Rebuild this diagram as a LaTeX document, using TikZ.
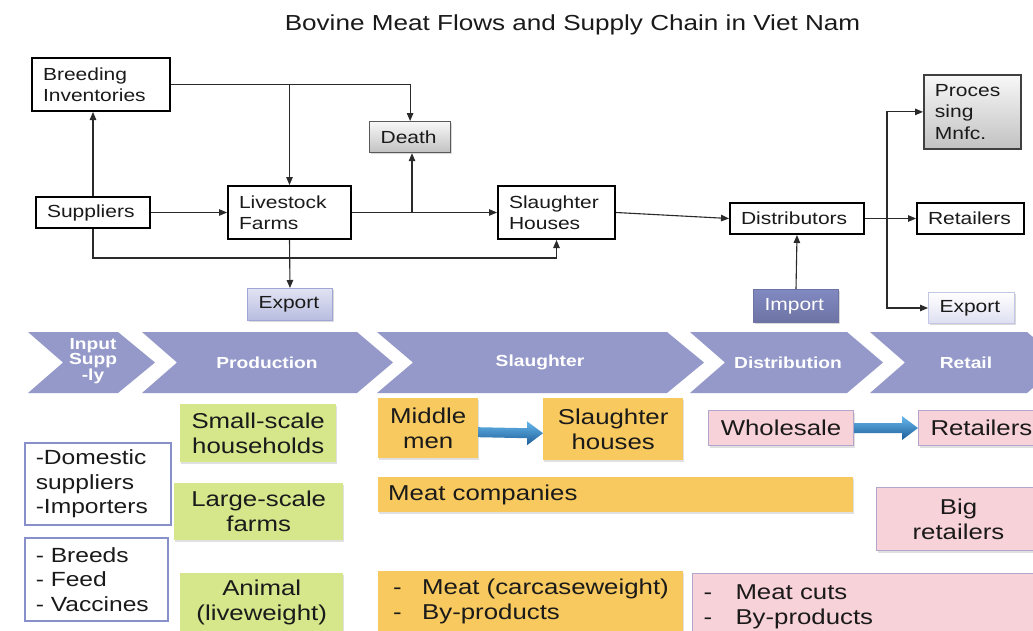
\documentclass[tikz,border=0pt]{standalone}
\usepackage{fontspec}
\setmainfont{Liberation Sans}[FakeStretch=1.2]
\usetikzlibrary{arrows.meta,calc,shadows}
\hyphenpenalty=10000
\exhyphenpenalty=10000
\definecolor{txt}{HTML}{1A1A1A}
\definecolor{lc}{HTML}{2A2A2A}
\definecolor{chev}{HTML}{9499C9}
\definecolor{grn}{HTML}{D5E68B}
\definecolor{org}{HTML}{F7C95E}
\definecolor{pnk}{HTML}{F8D2D9}
\definecolor{pbd}{HTML}{B3A6CC}
\definecolor{wbd}{HTML}{8890CC}
\definecolor{blT}{HTML}{66B8EC}
\definecolor{blM}{HTML}{2E88CF}
\definecolor{blB}{HTML}{1D5C98}
\newcommand\blarrow[3]{%
  \shade[top color=blT, middle color=blM, bottom color=blB]
  ($(#1)+(0,#3-5)$) -- ($(#2)+(-16,#3-5)$) -- ($(#2)+(-16,#3-12)$) --
  ($(#2)+(0,#3)$) -- ($(#2)+(-16,#3+12)$) -- ($(#2)+(-16,#3+5)$) --
  ($(#1)+(0,#3+5)$) -- cycle;}
\begin{document}
\begin{tikzpicture}[x=1pt,y=-1pt,
  bxsz/.style n args={3}{minimum width=#1, minimum height=#2, text width=#3},
  fb/.style={draw=black, line width=2pt, fill=white, inner xsep=11pt, inner ysep=0pt,
    align=left, anchor=north west, text=txt, font=\fontsize{17.5}{21.5}\selectfont},
  gb/.style={fb, line width=1.2pt, draw=black!65, top color=black!3, bottom color=black!24,
    drop shadow={shadow xshift=1pt,shadow yshift=-1.5pt,fill=black,opacity=0.15}},
  eb/.style={fb, line width=1pt, draw=wbd!80, top color=wbd!25, bottom color=wbd!60,
    drop shadow={shadow xshift=1pt,shadow yshift=-1.5pt,fill=black,opacity=0.15}},
  eb2/.style={fb, line width=1pt, draw=wbd!50, top color=white, bottom color=wbd!28,
    drop shadow={shadow xshift=1pt,shadow yshift=-1.5pt,fill=black,opacity=0.15}},
  ib/.style={fb, line width=1pt, draw=wbd!80!black, top color=wbd!95!black, bottom color=wbd!80!black,
    text=white, drop shadow={shadow xshift=1pt,shadow yshift=-1.5pt,fill=black,opacity=0.15}},
  bb/.style={inner xsep=8pt, inner ysep=0pt, anchor=north west, align=center, text=txt,
    font=\fontsize{21.5}{25}\selectfont,
    drop shadow={shadow xshift=1pt,shadow yshift=-2pt,fill=black,opacity=0.12}},
  wb/.style={inner xsep=11pt, inner ysep=0pt, anchor=north west, align=left, text=txt,
    fill=white, draw=wbd, line width=1.5pt, font=\fontsize{20.5}{24.5}\selectfont},
  pb/.style={bb, fill=pnk, draw=pbd, line width=1pt},
  chevt/.style={text=white, inner sep=0pt, align=center, font=\bfseries\fontsize{16}{16}\selectfont},
  conn/.style={draw=lc, line width=1.1pt},
  arr/.style={conn, -{Triangle[length=8pt,width=6.5pt]}}
]
\useasboundingbox (0,0) rectangle (1033,630);
\clip (0,0) rectangle (1033,630);
\fill[white] (0,0) rectangle (1033,630);

% title
\node[font=\fontsize{21.75}{25}\selectfont, anchor=base, text=txt, inner sep=0pt] (title) at (572.5,30)
  {Bovine Meat Flows and Supply Chain in Viet Nam};

% top flow boxes
\node[fb, bxsz={138}{53}{116}] (breed) at (31,57) {Breeding\\Inventories};
\node[gb, bxsz={81}{31}{59}] (death) at (369,121) {Death};
\node[fb, bxsz={114}{31}{92}] (supp) at (35,196) {Suppliers};
\node[fb, bxsz={123}{53}{101}] (farm) at (227,185) {Livestock\\Farms};
\node[eb, bxsz={85}{32}{63}] (exp1) at (247,288) {Export};
\node[fb, bxsz={117}{53}{95}] (slh) at (497,185) {Slaughter\\Houses};
\node[fb, bxsz={134}{31}{112}] (dist) at (729,202) {Distributors};
\node[gb, draw=black!75, line width=1.8pt, bxsz={97}{74}{75}] (proc) at (923,74) {Proces\\sing\\Mnfc.};
\node[fb, bxsz={107}{31}{85}] (ret) at (916,202) {Retailers};
\node[ib, bxsz={85}{33}{63}] (imp) at (753,289) {Import};
\node[eb2, bxsz={86}{31}{64}] (exp2) at (928,292) {Export};

% connectors
\coordinate (low) at (0,258);
\coordinate (jd) at (412,211.5);
\coordinate (jv) at (887,217.5);
\draw[arr] (breed.east) -| (death.north);
\draw[arr] (farm.north |- breed.east) -- (farm.north);
\draw[arr] (supp.north) -- (supp.north |- breed.south);
\draw[arr] (supp.east) -- (farm.west);
\draw[arr] (farm.east) -- (slh.west);
\draw[arr] (jd) -- (jd |- death.south);
\draw[arr] (supp.south) -- (supp.south |- low) -| (slh.south);
\draw[arr] (farm.south) -- (exp1.north);
\draw[arr] (slh.east) -- (dist.west);
\draw[arr] (imp.north) -- (dist.south);
\draw[arr] (dist.east) -- (ret.west);
\draw[arr] (jv) |- (proc.west);
\draw[arr] (jv) |- (exp2.west);

% chevrons
\fill[chev] (28,332) -- (118,332) -- (155,362.5) -- (118,393) -- (28,393) -- (63,362.5) -- cycle;
\fill[chev] (142,332) -- (357,332) -- (393,362.5) -- (357,393) -- (142,393) -- (177,362.5) -- cycle;
\fill[chev] (377,332) -- (667,332) -- (704,362.5) -- (667,393) -- (377,393) -- (413,362.5) -- cycle;
\fill[chev] (690,332) -- (847,332) -- (883,362.5) -- (847,393) -- (690,393) -- (725,362.5) -- cycle;
\fill[chev] (870,332) -- (1027,332) -- (1063,362.5) -- (1027,393) -- (870,393) -- (905,362.5) -- cycle;
\node[chevt, font=\bfseries\fontsize{16}{14.5}\selectfont] (cin) at (93,361) {Input\\Supp\\-ly};
\node[chevt] (cpr) at (267,362.5) {Production};
\node[chevt] (csl) at (540,362.5) {Slaughter};
\node[chevt] (cdi) at (788,362.5) {Distribution};
\node[chevt] (cre) at (966,362.5) {Retail};

% bottom: input supply
\node[wb, bxsz={146}{82}{124}] (dom) at (24,442) {-Domestic\\suppliers\\-Importers};
\node[wb, bxsz={143}{83}{121}] (inp) at (24,537) {- Breeds\\- Feed\\- Vaccines};

% production
\node[bb, fill=grn, bxsz={156}{58}{140}] (small) at (180,404) {Small-scale\\households};
\node[bb, fill=grn, bxsz={169}{57}{153}] (large) at (174,483) {Large-scale\\farms};
\node[bb, fill=grn, bxsz={163}{59}{147}] (anim) at (180,573) {Animal\\(liveweight)};

% slaughter
\node[bb, fill=org, bxsz={100}{60}{84}] (mid) at (378,398) {Middle\\men};
\node[bb, fill=org, bxsz={140}{62}{124}] (slh2) at (543,398) {Slaughter\\houses};
\node[bb, fill=org, inner xsep=10pt, align=left, bxsz={475}{35}{455}] (comp) at (378,477) {Meat companies};
\node[bb, fill=org, inner xsep=0pt, align=left, bxsz={305}{61}{305}] (carc) at (378,571)
  {\hspace*{15pt}\makebox[29pt][l]{-}Meat (carcaseweight)\\\hspace*{15pt}\makebox[29pt][l]{-}By-products};

% distribution / retail
\node[pb, bxsz={145}{35}{129}] (whole) at (708,410) {Wholesale};
\node[pb, inner xsep=12pt, align=left, bxsz={132}{35}{108}] (ret2) at (918,410) {Retailers};
\node[pb, bxsz={164}{63}{148}] (big) at (876,487) {Big\\retailers};
\node[pb, inner xsep=0pt, align=left, bxsz={353}{67}{353}] (cuts) at (692,573)
  {\hspace*{11pt}\makebox[32pt][l]{-}Meat cuts\\\hspace*{11pt}\makebox[32pt][l]{-}By-products};

% blue arrows
\blarrow{mid.east}{slh2.west}{4}
\blarrow{whole.east}{ret2.west}{0}
\end{tikzpicture}
\end{document}
